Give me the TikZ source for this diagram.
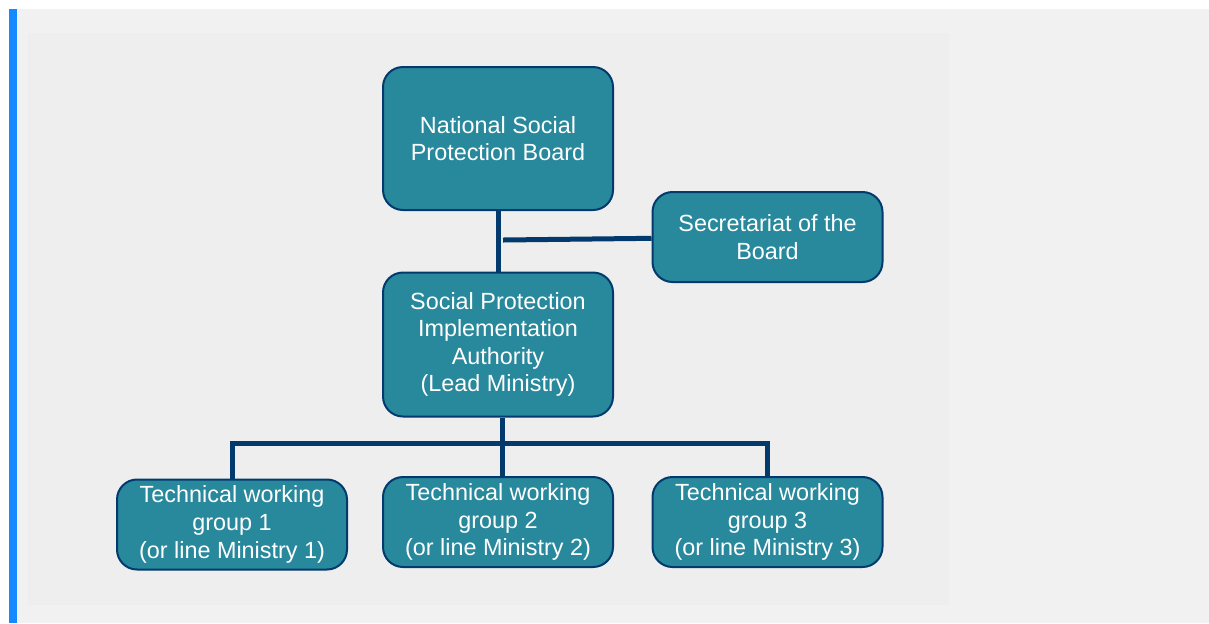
\documentclass[tikz,border=0pt]{standalone}
\usepackage{fontspec}
\setmainfont{Liberation Sans}
\usetikzlibrary{positioning}

\definecolor{boxteal}{HTML}{28889C}
\definecolor{linknavy}{HTML}{033A6E}
\definecolor{pagegray}{HTML}{F1F1F1}
\definecolor{panelgray}{HTML}{EEEEEE}
\definecolor{barblue}{HTML}{1589FF}

\begin{document}
\begin{tikzpicture}[x=0.5pt, y=-0.5pt,
    unit/.style={draw=linknavy, line width=1pt, fill=boxteal, rounded corners=10pt,
      text=white, align=center, font=\fontsize{11.7}{13.8}\selectfont,
      minimum width=115pt, inner sep=2pt},
    link/.style={draw=linknavy, line width=2.5pt, line join=miter}]

  %background
  \useasboundingbox (0,0) rectangle (1209,623);
  \fill[white] (0,0) rectangle (1209,623);
  \fill[pagegray] (9,9) rectangle (1209,623);
  \fill[panelgray] (28,33) rectangle (949,605);
  \fill[barblue] (9,9) rectangle (17,623);

  %top of the chart
  \node[unit, minimum height=71.5pt] (board) at (498,138.5) {National Social\\Protection Board};
  \node[unit, minimum height=45pt] (secr) at (767.5,237) {Secretariat of the\\Board};
  \node[unit, minimum height=72pt] (spia) at (498,344.5) {Social Protection\\Implementation\\Authority\\(Lead Ministry)};

  %working groups
  \foreach \i/\x/\y in {1/232/524.5, 2/498/522, 3/767.5/522}{
    \node[unit, minimum height=45pt] (tw\i) at (\x,\y) {Technical working\\group \i\\(or line Ministry \i)};
  }

  %connectors
  \coordinate (j1) at (503,240);
  \coordinate (hub) at (502,443);
  \draw[link] (board) -- (spia);
  \draw[link] (secr) -- (j1);
  \draw[link] (spia.south -| hub) -- (hub);
  \draw[link] (tw1.north) |- (hub) -| (tw3.north);
  \draw[link] (hub) -- (tw2.north -| hub);

\end{tikzpicture}
\end{document}
